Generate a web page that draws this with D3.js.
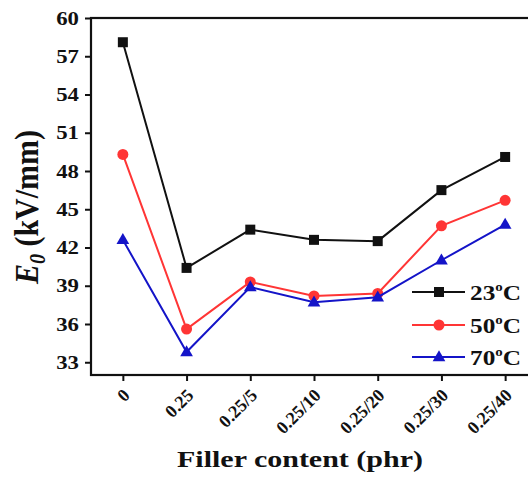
<!DOCTYPE html>
<html>
<head>
<meta charset="utf-8">
<script src="https://cdn.jsdelivr.net/npm/d3@7"></script>
<style>
html,body{margin:0;padding:0;background:#fff;}
svg{display:block;}
text{font-family:"Liberation Serif","Times New Roman",serif;font-weight:bold;fill:#111;}
</style>
</head>
<body>
<svg id="chart" width="528" height="483"></svg>
<script>
const categories = ["0", "0.25", "0.25/5", "0.25/10", "0.25/20", "0.25/30", "0.25/40"];
const t23 = [58.1, 40.4, 43.4, 42.6, 42.5, 46.5, 49.1];
const t50 = [49.3, 35.6, 39.3, 38.2, 38.4, 43.7, 45.7];
const t70 = [42.6, 33.8, 38.9, 37.7, 38.1, 41.0, 43.8];
const yTicks = [33, 36, 39, 42, 45, 48, 51, 54, 57, 60];
const seriesNames = ["23", "50", "70"];

const series = [
  {name: seriesNames[0], values: t23, color: "#111111", shape: "square"},
  {name: seriesNames[1], values: t50, color: "#ff3535", shape: "circle"},
  {name: seriesNames[2], values: t70, color: "#1414c8", shape: "triangle"}
];

const svg = d3.select("#chart");
const L = 91, T = 18, R = 537, B = 375;

const x = d3.scalePoint().domain(categories).range([L, R]).padding(0.5);
const y = d3.scaleLinear().domain([32, 60]).range([B, T]);

// frame
svg.append("rect").attr("x", L).attr("y", T).attr("width", R - L).attr("height", B - T)
  .attr("fill", "none").attr("stroke", "#111").attr("stroke-width", 2.2);

// y axis
const ya = svg.append("g").attr("transform", `translate(${L},0)`)
  .call(d3.axisLeft(y).tickValues(yTicks).tickSize(6).tickPadding(4).tickFormat(d3.format("d")));
ya.select(".domain").remove();
ya.selectAll("line").attr("stroke", "#111").attr("stroke-width", 2);
ya.selectAll("text").attr("font-size", 19).attr("font-family", null).attr("transform", "scale(1.2,1)");

// x axis
const xa = svg.append("g").attr("transform", `translate(0,${B})`)
  .call(d3.axisBottom(x).tickSize(6));
xa.select(".domain").remove();
xa.selectAll("line").attr("stroke", "#111").attr("stroke-width", 2);
xa.selectAll("text").attr("font-size", 18).attr("font-family", null)
  .attr("y", 0).attr("x", 0).attr("dy", "0.35em").attr("text-anchor", "end")
  .attr("transform", "translate(3,17) rotate(-45)");

// lines and markers
const line = d3.line().x((d, i) => x(categories[i])).y(d => y(d));
const tri = d3.symbol().type(d3.symbolTriangle).size(70);

function drawMarker(g, shape, color, cx, cy) {
  if (shape === "square") {
    g.append("rect").attr("x", cx - 5).attr("y", cy - 5).attr("width", 10).attr("height", 10).attr("fill", color);
  } else if (shape === "circle") {
    g.append("circle").attr("cx", cx).attr("cy", cy).attr("r", 5.5).attr("fill", color);
  } else {
    g.append("path").attr("d", tri()).attr("transform", `translate(${cx},${cy + 0.5})`).attr("fill", color);
  }
}

series.forEach(s => {
  const g = svg.append("g");
  g.append("path").attr("d", line(s.values)).attr("fill", "none")
    .attr("stroke", s.color).attr("stroke-width", 2);
  s.values.forEach((v, i) => drawMarker(g, s.shape, s.color, x(categories[i]), y(v)));
});

// legend
const legY = [292, 325, 357];
series.forEach((s, i) => {
  const g = svg.append("g");
  g.append("line").attr("x1", 412).attr("x2", 465).attr("y1", legY[i]).attr("y2", legY[i])
    .attr("stroke", s.color).attr("stroke-width", 2);
  drawMarker(g, s.shape, s.color, 439, legY[i]);
  const t = svg.append("g").attr("transform", `translate(470,${legY[i] + 8}) scale(1.15,1)`)
    .append("text").attr("font-size", 22);
  t.append("tspan").text(s.name);
  t.append("tspan").attr("font-size", 13).attr("dy", -9).text("o");
  t.append("tspan").attr("dy", 9).text("C");
});

// axis titles
svg.append("g").attr("transform", "translate(300,467) scale(1.25,1)")
  .append("text").attr("text-anchor", "middle").attr("font-size", 24).text("Filler content (phr)");

const yt = svg.append("g").attr("transform", "translate(38,207) scale(1.15,1) rotate(-90)")
  .append("text").attr("text-anchor", "middle").attr("font-size", 30);
yt.append("tspan").attr("font-style", "italic").text("E");
yt.append("tspan").attr("font-style", "italic").attr("font-size", 20).attr("dy", 6).text("0");
yt.append("tspan").attr("dy", -6).text(" (kV/mm)");
</script>
</body>
</html>
